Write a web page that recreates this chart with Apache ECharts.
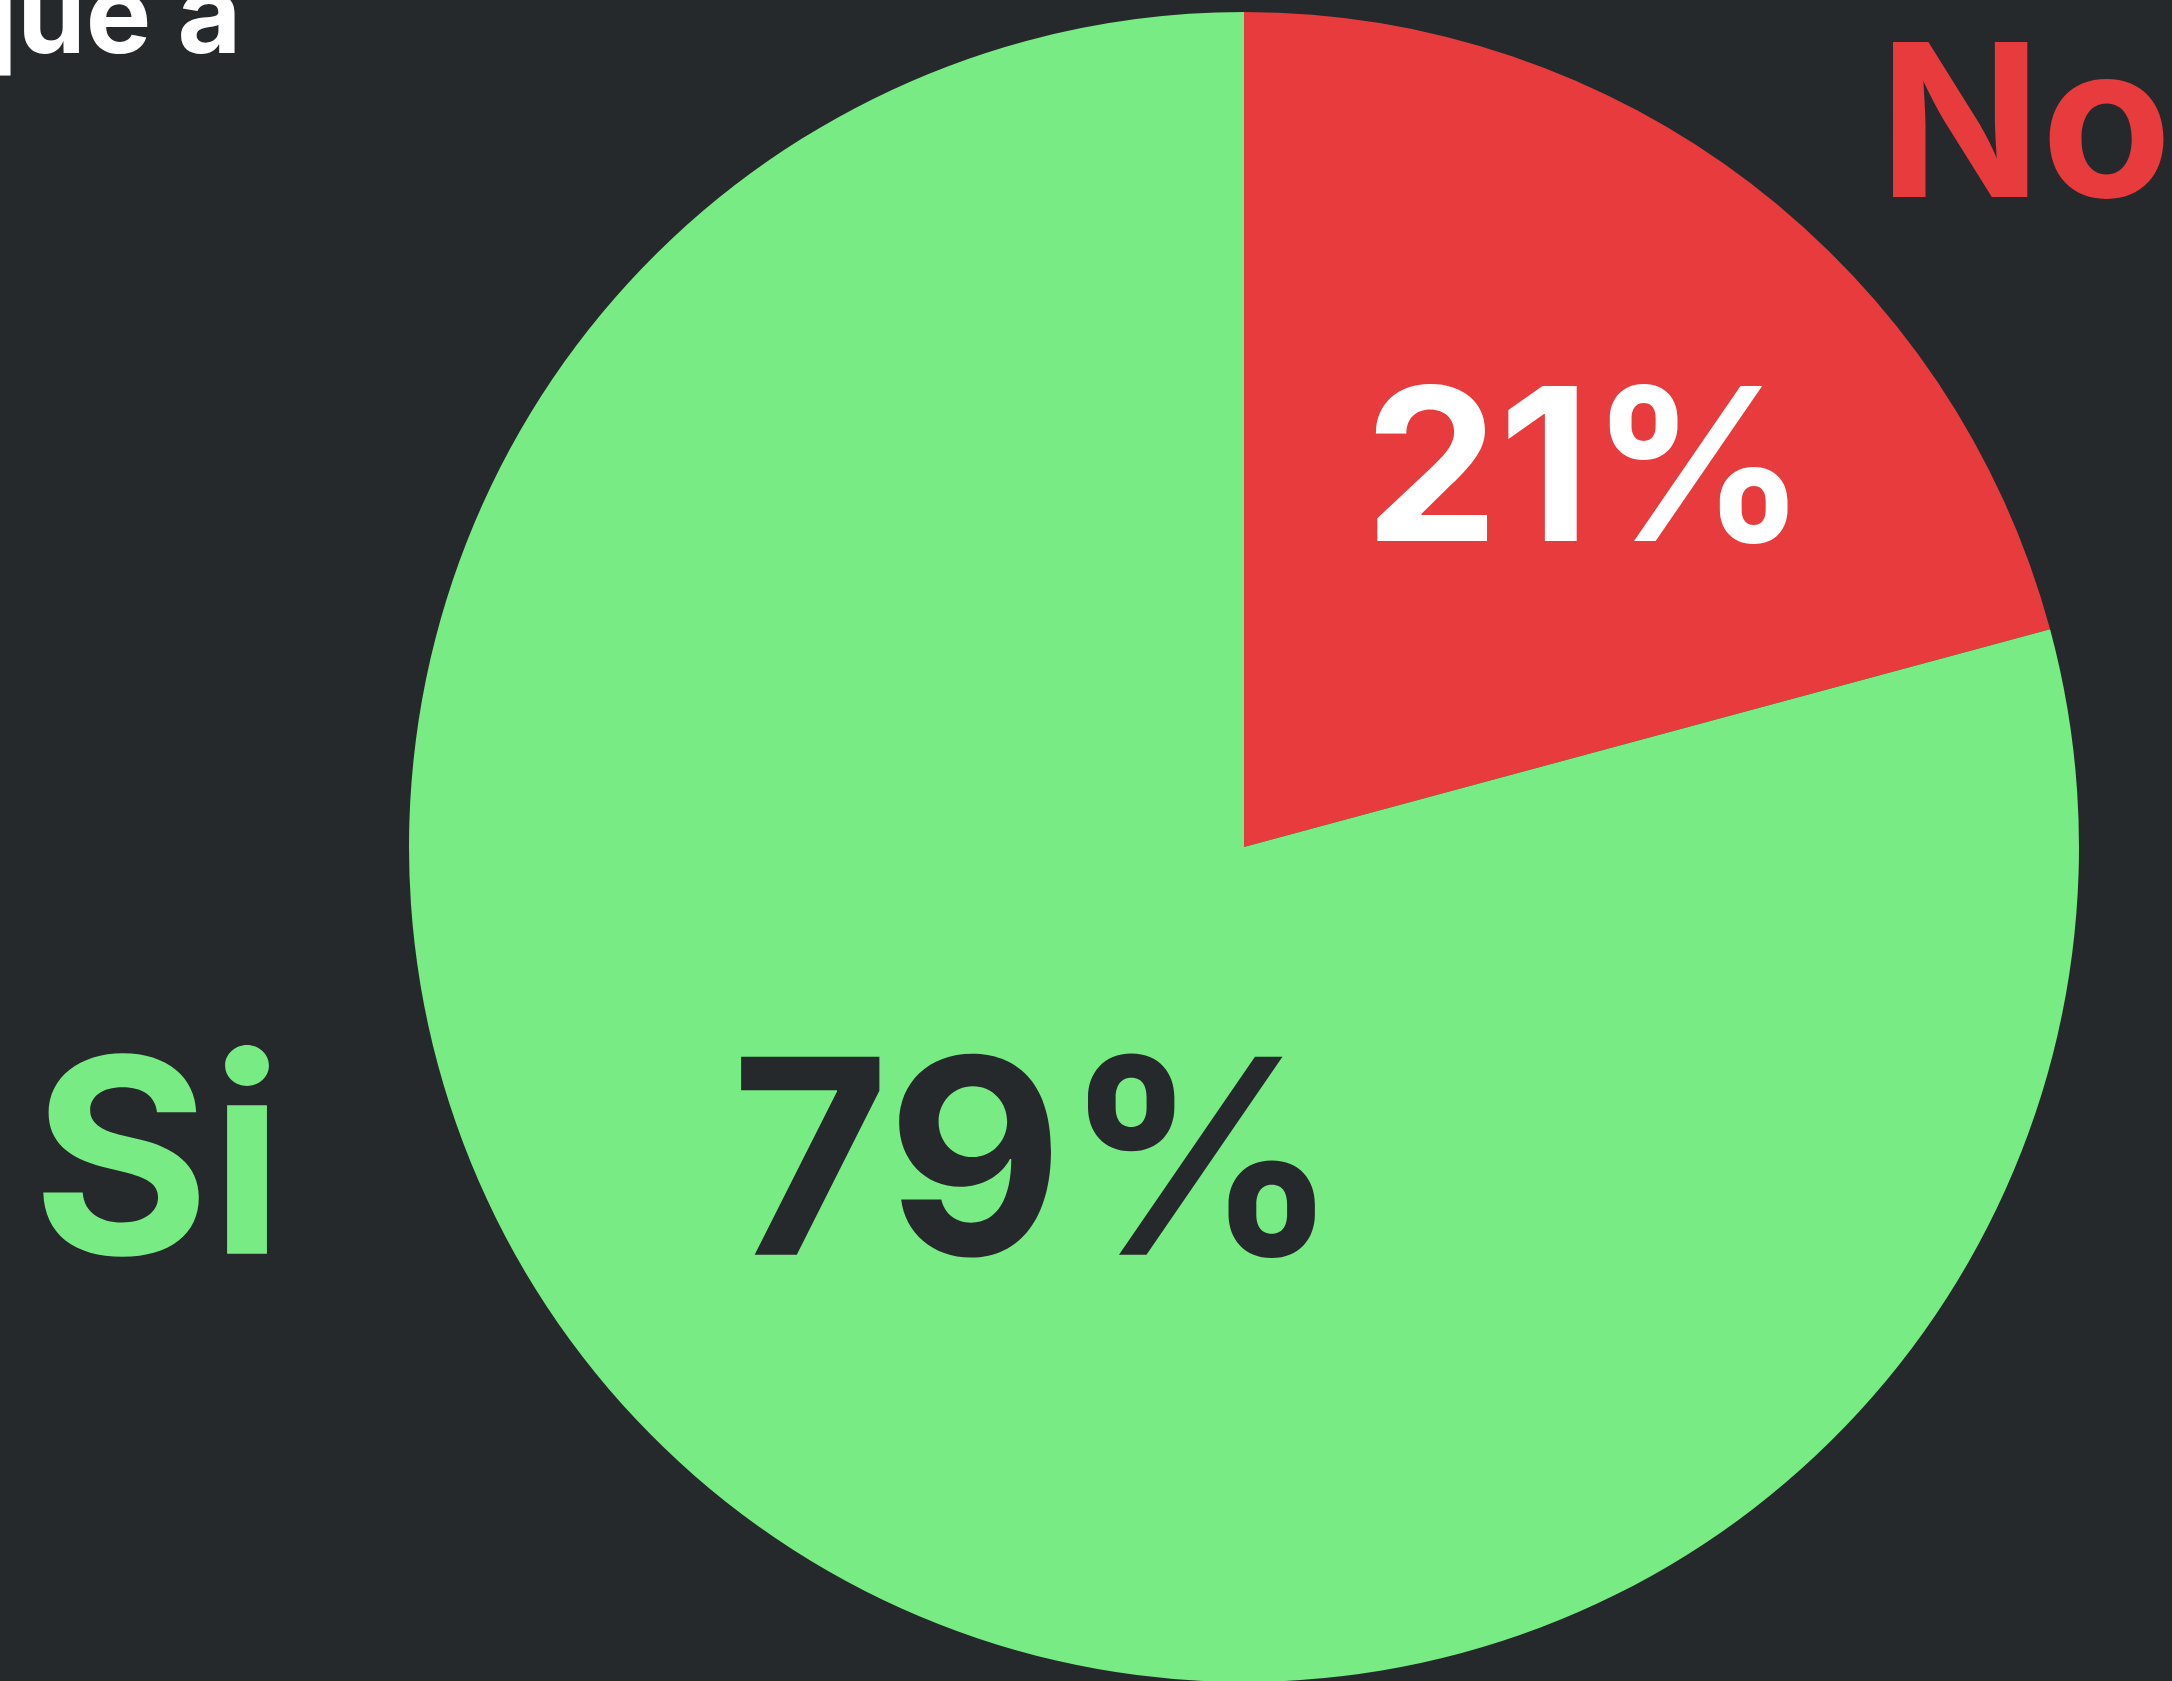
<!DOCTYPE html>
<html>
<head>
<meta charset="utf-8">
<script src="https://cdn.jsdelivr.net/npm/echarts@6/dist/echarts.min.js"></script>
<style>
  html, body { margin: 0; padding: 0; background: #26292c; }
  #chart { width: 2172px; height: 1681px; }
</style>
</head>
<body>
<div id="chart"></div>
<script>
// valores
const categories = ["No", "Si"];
const values = [20.8, 79.2];
const colors = ["#e83b3d", "#78eb84"];
const labelColors = ["#ffffff", "#26292c"];
const titleText = "que a";

const chart = echarts.init(document.getElementById("chart"));

const option = {
  backgroundColor: "#26292c",
  animation: false,
  textStyle: { fontFamily: "Inter" },
  graphic: [
    {
      type: "text",
      left: -52,
      top: -35,
      style: {
        text: titleText,
        fill: "#ffffff",
        font: "bold 110px Inter",
      },
    },
    {
      type: "text",
      x: 2172,
      y: 133,
      style: {
        text: categories[0],
        fill: colors[0],
        font: "bold 213px Inter",
        align: "right",
        verticalAlign: "middle",
      },
    },
    {
      type: "text",
      x: 32,
      y: 1172,
      style: {
        text: categories[1],
        fill: colors[1],
        font: "bold 272px Inter",
        align: "left",
        verticalAlign: "middle",
      },
    },
  ],
  series: [
    {
      type: "pie",
      center: [1244, 847],
      radius: 835,
      startAngle: 90,
      clockwise: true,
      silent: true,
      labelLine: { show: false },
      label: {
        show: true,
        position: "inside",
        fontFamily: "Inter",
        fontWeight: "bold",
        formatter: (p) => Math.round(p.percent) + "%",
      },
      data: categories.map((name, i) => ({
        name,
        value: values[i],
        itemStyle: { color: colors[i] },
        label: {
          color: labelColors[i],
          fontSize: i === 0 ? 213 : 272,
          offset: i === 0 ? [86, -36] : [47, -8],
        },
      })),
    },
  ],
};

chart.setOption(option);
</script>
</body>
</html>
